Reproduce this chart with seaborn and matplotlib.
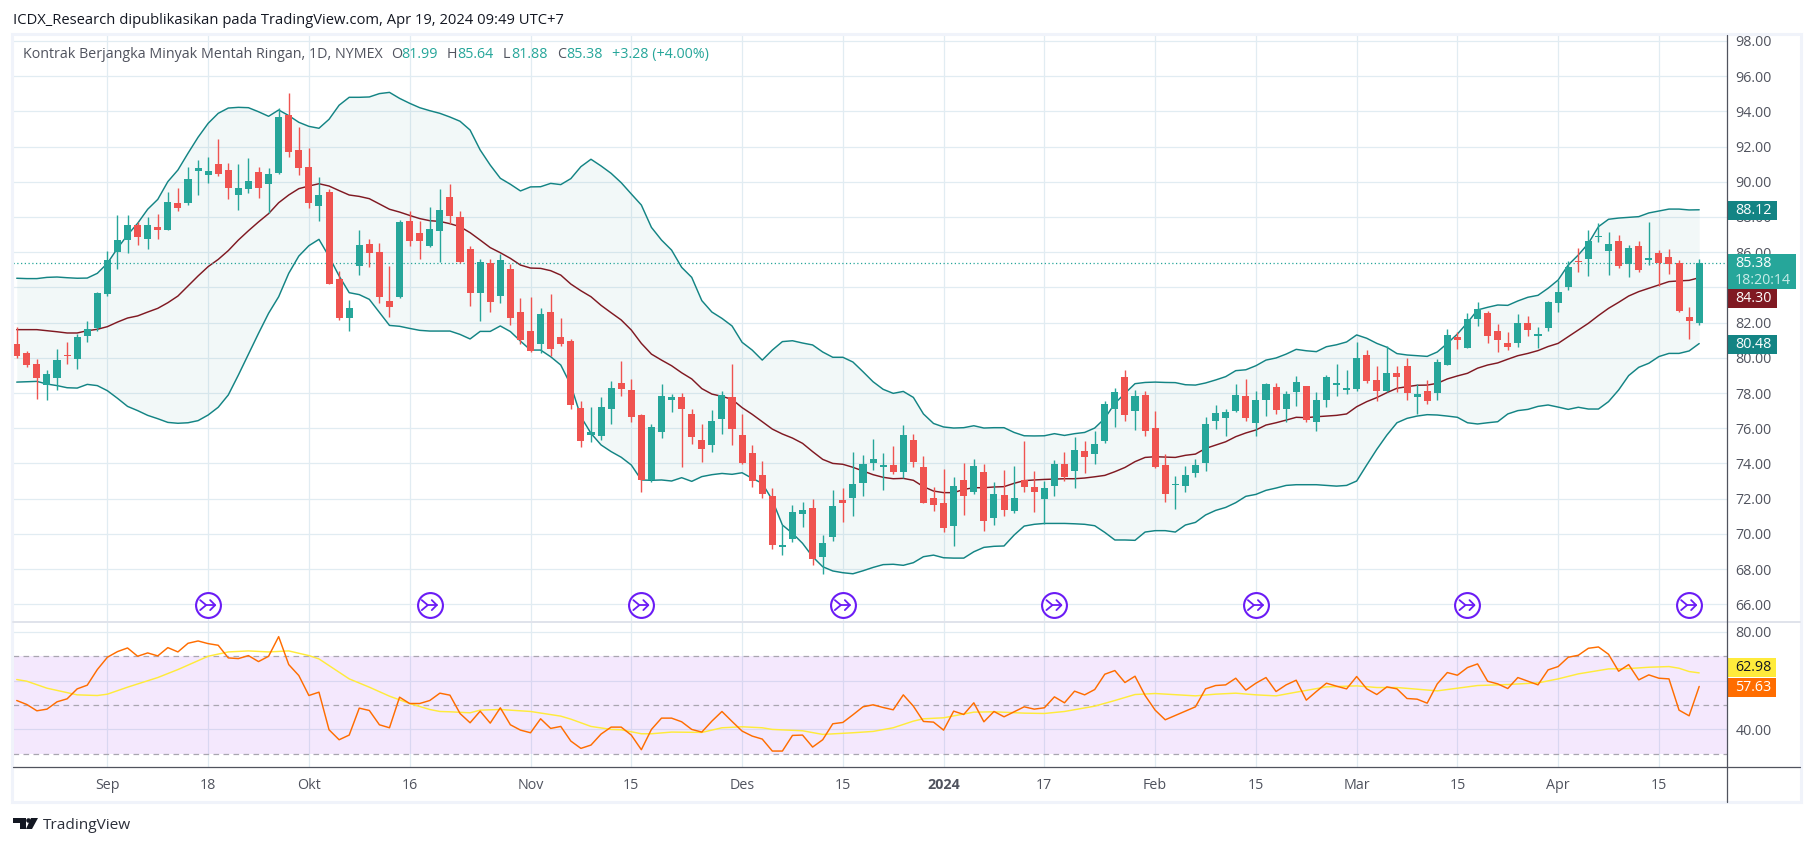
import matplotlib
matplotlib.use("Agg")
import matplotlib.pyplot as plt
from matplotlib.patches import Rectangle, Polygon
import numpy as np
import seaborn as sns

# ohlc, one value per trading day from Aug 21 2023
opens = [80.78, 80.27, 79.65, 78.45, 78.85, 80.16, 79.93, 81.24, 81.69, 83.62, 86.01, 86.69, 87.55, 86.75, 87.43,
         87.26, 88.80, 88.80, 90.61, 90.39, 91.01, 90.67, 89.25, 89.59, 90.56, 89.88, 90.50, 93.80, 91.81, 90.84,
         88.63, 89.42, 84.48, 82.26, 85.22, 86.47, 86.01, 83.23, 83.45, 87.77, 87.09, 86.35, 87.20, 89.14, 88.00,
         86.18, 83.68, 85.38, 83.51, 85.04, 82.60, 81.52, 80.78, 82.60, 81.18, 80.95, 77.15, 75.61, 75.55, 77.09,
         78.57, 78.17, 76.75, 73.06, 75.78, 77.60, 77.77, 76.81, 75.33, 75.05, 76.52, 77.77, 75.61, 74.59, 73.34,
         72.15, 69.25, 69.70, 71.12, 71.46, 68.68, 69.82, 71.92, 72.03, 72.89, 74.02, 73.80, 73.91, 73.51, 75.33,
         73.79, 72.03, 71.75, 70.44, 73.06, 72.37, 73.51, 70.90, 72.20, 71.29, 73.06, 72.66, 71.98, 72.71, 73.96,
         73.57, 74.70, 74.53, 75.27, 77.09, 78.91, 76.98, 77.88, 76.01, 73.91, 72.77, 72.71, 73.45, 74.02, 76.41,
         76.58, 76.98, 77.83, 76.29, 77.60, 78.34, 77.09, 78.06, 78.40, 76.35, 77.60, 78.45, 78.17, 78.23, 80.16,
         78.74, 78.11, 79.14, 79.54, 77.77, 78.11, 78.00, 79.59, 81.18, 80.56, 82.20, 82.55, 81.53, 80.84, 80.84,
         81.98, 81.24, 81.69, 83.11, 84.02, 85.50, 85.61, 86.86, 86.07, 86.64, 85.33, 86.35, 85.56, 85.95, 85.73,
         85.39, 82.32, 81.99]
highs = [81.73, 80.39, 79.93, 79.31, 80.50, 80.90, 81.37, 82.09, 83.74, 86.07, 88.11, 88.11, 87.73, 88.00, 88.17,
         89.42, 89.65, 90.84, 91.24, 91.41, 92.43, 91.07, 91.01, 91.35, 90.84, 90.78, 94.19, 95.05, 93.11, 91.92,
         90.27, 89.59, 84.93, 83.28, 87.26, 86.75, 86.52, 85.22, 87.83, 88.34, 87.77, 88.57, 89.59, 89.88, 88.34,
         86.35, 85.61, 85.61, 85.90, 85.33, 83.40, 83.45, 82.83, 83.62, 82.26, 81.07, 77.54, 77.20, 77.77, 78.68,
         79.82, 78.80, 76.81, 76.24, 78.51, 77.94, 78.00, 77.09, 76.24, 77.03, 78.11, 79.65, 76.81, 75.05, 74.14,
         72.60, 70.50, 71.64, 71.81, 71.98, 69.93, 72.49, 72.60, 74.65, 74.48, 75.39, 74.59, 74.99, 76.18, 75.67,
         74.42, 72.66, 73.68, 73.23, 74.02, 74.25, 73.96, 72.94, 73.62, 73.85, 75.27, 73.57, 73.00, 74.19, 74.65,
         75.50, 75.27, 75.84, 77.54, 78.28, 79.31, 78.17, 78.11, 76.98, 74.53, 73.28, 73.85, 74.25, 76.63, 77.32,
         77.09, 78.51, 78.79, 78.11, 78.57, 78.57, 78.11, 78.96, 78.40, 78.06, 79.02, 79.65, 79.31, 80.90, 80.44,
         79.54, 80.67, 79.54, 79.99, 78.51, 78.74, 79.93, 81.63, 81.47, 82.55, 83.17, 82.66, 81.92, 81.47, 82.49,
         82.38, 81.75, 83.23, 84.42, 85.50, 86.24, 87.26, 87.66, 87.15, 86.98, 86.41, 86.64, 87.72, 86.13, 86.18,
         85.56, 82.89, 85.64]
lows = [80.01, 79.50, 77.68, 77.62, 78.17, 79.65, 79.36, 80.90, 81.54, 83.53, 85.05, 85.95, 86.41, 86.18, 86.75,
        87.26, 88.34, 88.68, 89.25, 89.93, 90.33, 89.02, 88.40, 89.36, 89.08, 88.21, 90.44, 91.41, 90.39, 88.51,
        87.77, 84.19, 82.15, 81.52, 84.70, 85.16, 83.11, 82.32, 83.40, 86.35, 85.61, 86.30, 85.44, 87.60, 85.40,
        82.94, 82.09, 82.60, 83.11, 81.86, 80.78, 80.33, 80.27, 80.10, 80.67, 77.09, 74.93, 75.21, 75.33, 76.24,
        77.83, 76.35, 72.37, 72.95, 75.44, 76.92, 73.80, 75.10, 74.08, 74.65, 75.67, 75.05, 73.97, 72.66, 72.03,
        69.14, 68.80, 69.53, 70.39, 68.23, 67.72, 69.59, 70.67, 71.01, 72.15, 73.63, 72.49, 73.40, 73.17, 73.79,
        71.75, 71.29, 70.10, 69.31, 71.07, 72.26, 70.16, 70.50, 71.01, 71.18, 72.37, 71.24, 70.56, 72.15, 73.00,
        72.60, 73.45, 73.96, 75.16, 76.07, 76.41, 75.90, 75.56, 73.74, 71.81, 71.41, 72.37, 73.23, 73.57, 75.95,
        75.56, 76.92, 76.41, 75.56, 76.69, 76.81, 76.35, 77.26, 76.35, 75.84, 77.20, 77.83, 77.94, 78.11, 78.57,
        77.55, 78.06, 78.06, 77.60, 76.81, 77.37, 77.60, 79.59, 80.50, 80.56, 81.81, 80.84, 80.33, 80.44, 80.61,
        81.24, 80.56, 81.53, 82.60, 83.85, 84.87, 84.65, 86.58, 84.70, 85.10, 84.59, 84.87, 85.27, 84.08, 84.76,
        82.60, 81.07, 81.88]
closes = [80.10, 79.59, 78.85, 79.08, 79.87, 80.10, 81.18, 81.64, 83.68, 85.56, 86.69, 87.55, 86.86, 87.55, 87.26,
          88.85, 88.51, 90.16, 90.78, 90.61, 90.44, 89.65, 89.65, 90.05, 89.65, 90.44, 93.68, 91.69, 90.78, 88.80,
          89.25, 84.19, 82.26, 82.83, 86.41, 85.95, 83.45, 82.89, 87.72, 86.64, 86.64, 87.32, 88.40, 88.06, 85.44,
          83.68, 85.44, 83.17, 85.55, 82.26, 81.01, 80.39, 82.49, 80.50, 80.78, 77.32, 75.27, 75.78, 77.20, 78.28,
          78.23, 76.64, 73.06, 76.07, 77.83, 77.77, 77.09, 75.50, 74.82, 76.41, 77.89, 75.95, 74.02, 73.00, 72.26,
          69.37, 69.37, 71.24, 71.35, 68.57, 69.48, 71.58, 71.75, 72.83, 73.97, 74.25, 73.91, 73.51, 75.61, 74.08,
          71.75, 71.63, 70.33, 72.71, 72.15, 73.85, 70.73, 72.26, 71.35, 72.03, 72.66, 72.37, 72.60, 73.96, 73.23,
          74.76, 74.36, 75.10, 77.37, 78.06, 76.75, 77.83, 75.84, 73.79, 72.26, 72.83, 73.34, 73.91, 76.24, 76.86,
          76.92, 77.88, 76.58, 77.60, 78.51, 77.03, 77.94, 78.62, 76.46, 77.60, 78.91, 78.57, 78.28, 79.99, 78.68,
          78.11, 79.14, 78.91, 78.00, 77.94, 77.55, 79.76, 81.30, 81.01, 82.20, 82.77, 81.24, 81.01, 80.61, 81.98,
          81.58, 81.35, 83.17, 83.74, 85.16, 85.44, 86.64, 86.92, 86.47, 85.22, 86.24, 84.99, 85.67, 85.39, 85.33,
          82.66, 82.09, 85.38]

bb_upper = [84.52, 84.50, 84.50, 84.57, 84.59, 84.55, 84.52, 84.53, 84.80, 85.37, 86.22, 86.98, 87.64, 88.44, 89.00,
            90.01, 90.67, 91.62, 92.53, 93.32, 93.89, 94.19, 94.23, 94.21, 93.98, 93.72, 94.08, 93.76, 93.38, 93.15,
            93.04, 93.55, 94.35, 94.80, 94.80, 94.82, 95.01, 95.08, 94.74, 94.46, 94.21, 94.04, 93.89, 93.68, 93.44,
            92.94, 91.81, 90.95, 90.20, 89.86, 89.48, 89.71, 89.72, 89.91, 89.84, 90.18, 90.86, 91.28, 90.90, 90.48,
            89.95, 89.31, 88.68, 87.41, 86.69, 86.12, 85.14, 84.57, 83.25, 82.60, 82.24, 81.81, 80.88, 80.44, 79.87,
            80.44, 80.92, 80.97, 80.84, 80.73, 80.33, 80.03, 80.03, 79.76, 79.21, 78.64, 78.21, 77.98, 78.09, 77.75,
            76.81, 76.27, 76.07, 76.01, 76.03, 76.14, 76.01, 76.03, 76.03, 75.76, 75.57, 75.56, 75.57, 75.69, 75.59,
            75.69, 75.76, 76.01, 76.56, 77.41, 77.98, 78.53, 78.60, 78.62, 78.60, 78.59, 78.47, 78.45, 78.57, 78.74,
            78.93, 79.27, 79.32, 79.55, 79.87, 79.99, 80.21, 80.48, 80.40, 80.35, 80.63, 80.74, 80.90, 81.30, 81.11,
            80.82, 80.60, 80.24, 80.16, 80.12, 80.08, 80.33, 80.82, 81.35, 82.00, 82.72, 82.87, 83.00, 82.98, 83.23,
            83.44, 83.55, 83.95, 84.42, 85.27, 85.84, 86.50, 87.45, 87.87, 87.94, 87.98, 88.02, 88.23, 88.34, 88.45,
            88.45, 88.40, 88.41]
bb_basis = [81.60, 81.60, 81.60, 81.54, 81.48, 81.41, 81.41, 81.54, 81.62, 81.77, 82.03, 82.26, 82.38, 82.60, 82.81,
            83.13, 83.51, 84.08, 84.65, 85.18, 85.59, 86.09, 86.69, 87.22, 87.72, 88.19, 88.81, 89.25, 89.61, 89.76,
            89.89, 89.76, 89.50, 89.25, 89.17, 89.04, 88.74, 88.44, 88.28, 88.09, 87.91, 87.79, 87.75, 87.62, 87.45,
            87.11, 86.69, 86.26, 85.97, 85.65, 85.27, 85.10, 85.08, 84.95, 84.70, 84.19, 83.81, 83.47, 82.98, 82.56,
            82.15, 81.58, 80.82, 80.21, 79.87, 79.55, 79.15, 78.80, 78.25, 77.94, 77.81, 77.64, 77.17, 76.79, 76.37,
            75.95, 75.67, 75.44, 75.14, 74.67, 74.23, 74.00, 73.95, 73.78, 73.57, 73.36, 73.21, 73.13, 73.15, 73.04,
            72.68, 72.43, 72.34, 72.34, 72.52, 72.62, 72.62, 72.66, 72.68, 72.87, 73.02, 73.06, 73.09, 73.11, 73.13,
            73.13, 73.17, 73.24, 73.32, 73.53, 73.77, 74.10, 74.34, 74.38, 74.36, 74.34, 74.46, 74.53, 74.85, 75.04,
            75.23, 75.52, 75.73, 75.90, 76.18, 76.31, 76.46, 76.62, 76.60, 76.65, 76.69, 76.73, 76.81, 77.22, 77.51,
            77.74, 78.02, 78.27, 78.36, 78.44, 78.45, 78.55, 78.80, 78.97, 79.12, 79.41, 79.59, 79.71, 79.92, 80.12,
            80.25, 80.41, 80.64, 80.82, 81.20, 81.58, 81.96, 82.40, 82.81, 83.15, 83.51, 83.76, 83.95, 84.14, 84.33,
            84.37, 84.40, 84.55]
bb_lower = [78.62, 78.64, 78.66, 78.51, 78.42, 78.30, 78.28, 78.49, 78.42, 78.13, 77.70, 77.24, 77.00, 76.73, 76.54,
            76.33, 76.28, 76.31, 76.43, 76.75, 77.19, 77.89, 79.02, 80.20, 81.39, 82.53, 83.47, 84.80, 85.78, 86.37,
            86.73, 85.75, 84.65, 83.70, 83.59, 83.32, 82.58, 81.84, 81.79, 81.67, 81.56, 81.52, 81.52, 81.52, 81.33,
            81.07, 81.50, 81.50, 81.81, 81.49, 80.95, 80.44, 80.44, 80.06, 79.59, 78.45, 76.65, 75.71, 75.05, 74.67,
            74.35, 73.91, 73.06, 73.04, 73.06, 73.00, 73.19, 72.98, 73.25, 73.36, 73.43, 73.38, 73.47, 73.15, 72.87,
            71.92, 70.50, 70.03, 69.46, 68.70, 68.13, 67.89, 67.79, 67.73, 67.90, 68.09, 68.25, 68.27, 68.21, 68.36,
            68.70, 68.79, 68.64, 68.62, 68.62, 68.98, 69.23, 69.29, 69.31, 69.93, 70.44, 70.54, 70.59, 70.59, 70.59,
            70.57, 70.54, 70.46, 70.08, 69.65, 69.65, 69.63, 70.10, 70.18, 70.18, 70.10, 70.50, 70.65, 71.07, 71.33,
            71.50, 71.77, 72.13, 72.24, 72.47, 72.60, 72.75, 72.79, 72.79, 72.79, 72.75, 72.71, 72.75, 73.00, 73.91,
            74.80, 75.61, 76.31, 76.56, 76.69, 76.77, 76.75, 76.69, 76.62, 76.31, 76.24, 76.31, 76.37, 76.81, 77.00,
            77.07, 77.24, 77.32, 77.20, 77.07, 77.19, 77.09, 77.09, 77.51, 78.17, 78.99, 79.46, 79.69, 80.07, 80.25,
            80.25, 80.39, 80.81]

rsi = [51.86, 50.22, 47.63, 48.31, 51.32, 52.55, 56.64, 58.15, 64.57, 69.62, 71.94, 73.44, 70.03, 71.40, 70.17,
       73.58, 71.81, 75.36, 76.31, 75.22, 74.54, 69.35, 69.07, 70.30, 67.84, 70.03, 78.09, 66.61, 62.11, 53.91,
       55.28, 39.84, 35.74, 37.66, 48.72, 47.76, 41.89, 40.66, 53.23, 50.63, 50.63, 51.86, 54.87, 54.05, 46.53,
       42.71, 47.49, 42.57, 48.86, 41.89, 39.70, 38.61, 44.35, 40.39, 41.21, 35.20, 32.19, 33.56, 38.07, 40.93,
       40.93, 37.66, 31.65, 39.98, 44.62, 44.62, 43.12, 39.98, 38.89, 43.39, 47.35, 43.26, 39.30, 37.25, 36.02,
       31.10, 31.10, 37.52, 37.66, 32.74, 35.74, 42.30, 42.85, 45.99, 49.27, 50.09, 48.99, 48.04, 54.18, 49.54,
       43.26, 42.98, 39.70, 47.49, 46.12, 50.91, 43.12, 47.35, 45.17, 47.22, 49.27, 48.31, 48.86, 53.36, 50.91,
       55.69, 54.18, 56.37, 62.65, 64.16, 59.24, 61.83, 53.91, 47.90, 43.94, 45.72, 47.49, 49.27, 56.64, 58.01,
       58.28, 61.01, 56.10, 58.97, 61.29, 55.55, 58.28, 60.19, 52.00, 55.55, 58.97, 57.74, 56.64, 61.70, 56.64,
       54.32, 57.46, 56.64, 52.68, 52.41, 50.77, 58.69, 63.34, 62.24, 65.39, 66.89, 59.78, 58.69, 56.78, 61.29,
       59.78, 58.28, 64.43, 65.80, 69.62, 70.44, 73.31, 73.85, 70.85, 63.88, 66.61, 60.33, 62.38, 61.01, 60.74,
       47.90, 45.58, 57.63]
rsi_ma_days = [0, 1, 3, 6, 8, 9, 11, 14, 16, 19, 21, 23, 25, 27, 29, 30, 31, 33, 35, 37, 39, 41, 42, 43, 45, 46, 48,
               51, 54, 55, 57, 59, 60, 62, 63, 65, 68, 70, 72, 74, 75, 78, 80, 83, 85, 87, 89, 90, 92, 95, 97, 100,
               102, 104, 107, 109, 111, 113, 117, 119, 121, 123, 125, 127, 130, 133, 135, 137, 141, 145, 148, 151,
               153, 155, 158, 160, 162, 164, 165, 166, 167]
rsi_ma = [60.47, 59.78, 56.92, 54.18, 53.91, 54.46, 57.33, 61.29, 64.57, 70.03, 71.81, 72.22, 71.81, 72.22, 70.30,
          68.94, 66.21, 60.74, 57.33, 53.64, 50.63, 48.17, 47.35, 47.22, 46.81, 47.90, 48.17, 47.35, 45.44, 44.21,
          41.21, 39.98, 39.84, 38.20, 38.20, 38.89, 38.75, 40.66, 41.07, 40.66, 39.98, 39.43, 37.93, 38.61, 39.16,
          40.66, 43.39, 44.35, 44.76, 47.08, 47.22, 46.67, 46.53, 47.35, 49.54, 51.86, 54.32, 54.73, 53.77, 54.46,
          54.87, 54.18, 53.77, 55.28, 57.46, 57.87, 57.19, 57.19, 55.82, 58.01, 58.42, 59.10, 60.74, 62.79, 64.84,
          64.98, 65.52, 65.80, 65.11, 63.75, 63.20]

tick_days = [9, 19, 29, 39, 51, 61, 72, 82, 92, 102, 113, 123, 133, 143, 153, 163]
tick_names = ["Sep", "18", "Okt", "16", "Nov", "15", "Des", "15", "2024", "17", "Feb", "15", "Mar", "15", "Apr", "15"]
event_days = [19, 41, 62, 82, 103, 123, 144, 166]
price_ticks = list(range(66, 100, 2))
rsi_ticks = [80, 60, 40]
rsi_levels = [70, 50, 30]

UP = "#26a69a"
DOWN = "#ef5350"
BAND = "#138484"
GRID = "#e1ecf2"
TEXT = "#50535e"
EVENT = "#6a1bf5"
FONT = ["Open Sans", "DejaVu Sans"]

sns.set_theme(style="white")
plt.rcParams["font.family"] = FONT
W, H = 1815, 846
days = np.arange(len(closes))


def axes_px(x0, y0, x1, y1):
    return fig.add_axes([x0 / W, 1 - y1 / H, (x1 - x0) / W, (y1 - y0) / H])


fig = plt.figure(figsize=(W / 100, H / 100), dpi=100, facecolor="white")
ax = axes_px(13.5, 35, 1727, 622)
ax2 = axes_px(13.5, 622, 1727, 767)

for a in (ax, ax2):
    a.set_xlim(-0.32, 169.76)
    a.set_axisbelow(True)
    for s in a.spines.values():
        s.set_visible(False)
    a.set_xticks(tick_days)
    a.grid(True, color=GRID, lw=0.9)
    a.yaxis.tick_right()
    a.tick_params(axis="both", length=0, labelsize=10.3, labelcolor=TEXT, pad=6)

# price panel, the 84.00 label sits fully behind the price boxes
ax.set_ylim(64.99, 98.34)
ax.set_yticks(price_ticks)
ax.set_yticklabels(["" if p == 84 else f"{p:.2f}" for p in price_ticks])
ax.set_xticklabels([])

ax.fill_between(days, bb_lower, bb_upper, color=BAND, alpha=0.05, lw=0)
sns.lineplot(x=days, y=bb_upper, color=BAND, lw=1.05, ax=ax, errorbar=None)
sns.lineplot(x=days, y=bb_lower, color=BAND, lw=1.05, ax=ax, errorbar=None)
sns.lineplot(x=days, y=bb_basis, color="#801922", lw=1.05, ax=ax, errorbar=None)
ax.axhline(closes[-1], color=UP, lw=0.9, ls=(0, (1, 2)))

o, h, l, c = map(np.array, (opens, highs, lows, closes))
colors = np.where(c >= o, UP, DOWN)
ax.vlines(days, l, h, colors=colors, lw=1.0, zorder=3)
ax.bar(days, np.maximum(np.abs(c - o), 0.06), bottom=np.minimum(o, c), width=0.7, color=colors, lw=0, zorder=4)
ax.set_xlim(-0.32, 169.76)
ax.set_ylim(64.99, 98.34)

# event markers
ev_y = 65.95
ax.scatter(event_days, [ev_y] * len(event_days), s=320, facecolor="white", edgecolor=EVENT, lw=1.5, zorder=6,
           clip_on=False)

# rsi panel
ax2.set_ylim(24.55, 84.1)
ax2.set_yticks(rsi_ticks)
ax2.set_yticklabels(["" if v == 60 else f"{v:.2f}" for v in rsi_ticks])
ax2.set_xticklabels(tick_names)
for lab, name in zip(ax2.get_xticklabels(), tick_names):
    if name == "2024":
        lab.set_fontweight("bold")
ax2.tick_params(axis="x", pad=8)
ax2.axhspan(rsi_levels[2], rsi_levels[0], color="#9c27f0", alpha=0.1, lw=0)
for lev in rsi_levels:
    ax2.axhline(lev, color="#a9a6b0", lw=0.9, ls=(0, (4.5, 3.5)))
sns.lineplot(x=rsi_ma_days, y=rsi_ma, color="#ffeb3b", lw=1.05, ax=ax2, errorbar=None)
sns.lineplot(x=days, y=rsi, color="#ff6d00", lw=1.05, ax=ax2, errorbar=None)
ax2.set_xlim(-0.32, 169.76)
ax2.set_ylim(24.55, 84.1)

# page furniture in pixel coordinates
ov = fig.add_axes([0, 0, 1, 1], facecolor="none", zorder=10)
ov.set_xlim(0, W)
ov.set_ylim(H, 0)
ov.axis("off")
ov.add_patch(Rectangle((12.5, 34), 1789, 768, fill=False, ec="#f0f3fa", lw=2.2))
ov.plot([13.5, 1800], [622, 622], color="#e0e3eb", lw=1.4)
ov.plot([13.5, 1800], [767.3, 767.3], color="#50535e", lw=0.9)
ov.plot([1727, 1727], [35, 802], color="#50535e", lw=0.9)


def box(x1, y0, y1, fc, lines):
    ov.add_patch(Rectangle((1727.5, y0), x1 - 1727.5, y1 - y0, fc=fc, ec="none"))
    for yy, txt, col in lines:
        ov.text(1735, yy, txt, color=col, fontsize=10.3, va="center", ha="left")


box(1777, 201, 220, BAND, [(210.5, "88.12", "white")])
box(1796, 254, 289, UP, [(263.5, "85.38", "white"), (280, "18:20:14", "#c8ece8")])
box(1777, 289, 308, "#801922", [(298.5, "84.30", "white")])
box(1777, 335, 354, BAND, [(344.5, "80.48", "white")])
box(1776, 658, 677, "#ffeb3b", [(667.5, "62.98", "#131722")])
box(1776, 678, 697, "#ff6d00", [(687.5, "57.63", "white")])

# merge-arrow glyph inside each event circle
for d in event_days:
    px = ax.transData.transform((d, ev_y))
    cx = px[0]
    cy = H - px[1]
    ov.plot([cx - 8, cx - 2, cx - 8], [cy - 5, cy, cy + 5], color=EVENT, lw=1.3)
    ov.plot([cx - 2, cx + 7], [cy, cy], color=EVENT, lw=1.3)
    ov.plot([cx + 2, cx + 7, cx + 2], [cy - 5, cy, cy + 5], color=EVENT, lw=1.3)

ov.text(13, 20, "ICDX_Research dipublikasikan pada TradingView.com, Apr 19, 2024 09:49 UTC+7", color="#131722",
        fontsize=10.6, va="center")
ov.text(23, 54.5, "Kontrak Berjangka Minyak Mentah Ringan, 1D, NYMEX", color=TEXT, fontsize=10.3, va="center")
legend_parts = [(391, "O", TEXT), (401, "81.99", UP), (447, "H", TEXT), (457, "85.64", UP), (503, "L", TEXT),
                (511, "81.88", UP), (557, "C", TEXT), (566, "85.38", UP), (612, "+3.28 (+4.00%)", UP)]
for xx, txt, col in legend_parts:
    ov.text(xx, 54.5, txt, color=col, fontsize=10.3, va="center")

# logo
ov.add_patch(Polygon([(13, 818), (26, 818), (26, 829), (20, 829), (20, 823), (13, 823)], fc="#131722", ec="none"))
ov.add_patch(Polygon([(31, 818), (38, 818), (32, 829), (26, 829)], fc="#131722", ec="none"))
ov.scatter([28.5], [820], s=11, color="#131722", lw=0)
ov.text(43, 825.5, "TradingView", color="#2a2e39", fontsize=11.1, va="center")

fig.savefig("out.png", dpi=100)
